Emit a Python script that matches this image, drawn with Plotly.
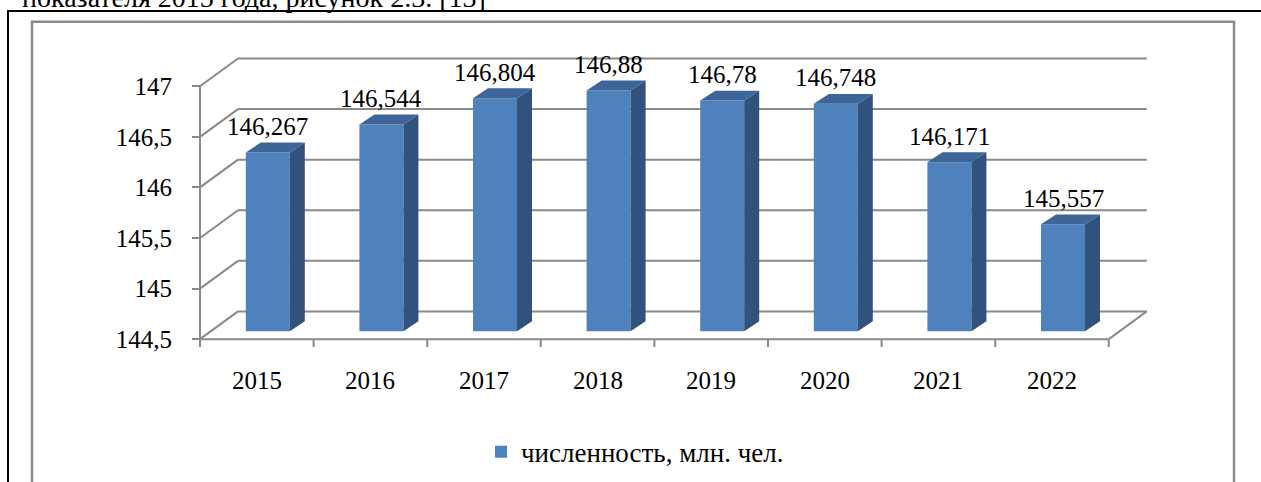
import plotly.graph_objects as go

# ---------------- data ----------------
years = ["2015", "2016", "2017", "2018", "2019", "2020", "2021", "2022"]
population = [146.267, 146.544, 146.804, 146.88, 146.78, 146.748, 146.171, 145.557]
y_ticks = [144.5, 145.0, 145.5, 146.0, 146.5, 147.0]
y_tick_text = ["144,5", "145", "145,5", "146", "146,5", "147"]
series_name = "численность, млн. чел."
caption_text = "показателя 2015 года, рисунок 2.3. [13]"

# ---------------- geometry (pixels) ----------------
W, H = 1261, 482
X0_PX, CAT_PX = 200.0, 113.6      # pixel of x=0, pixels per category
Y0_PX, UNIT_PX = 342.0, 102.0     # pixel of y=144.5, pixels per unit
YMIN = 144.5
X_RANGE = [-0.1, 8.6]
Y_RANGE = [144.4, 147.5]

def dxu(px):
    return px / CAT_PX

def dyu(px):
    return px / UNIT_PX

WALL_DX, WALL_DY = dxu(38), dyu(28)     # depth of the 3D box
OFF_DX, OFF_DY = dxu(11), dyu(8)        # bar front plane offset
DEP_DX, DEP_DY = dxu(15), dyu(10)       # bar depth
BAR_W = dxu(44)

x_dom = [(X0_PX + CAT_PX * X_RANGE[0]) / W, (X0_PX + CAT_PX * X_RANGE[1]) / W]
y_dom = [1 - (Y0_PX - UNIT_PX * (Y_RANGE[0] - YMIN)) / H,
         1 - (Y0_PX - UNIT_PX * (Y_RANGE[1] - YMIN)) / H]

FRONT = "#4F81BD"
TOP = "#3E6597"
SIDE = "#31527C"
GRID = "#8a8a8a"
FONT = "Liberation Serif, Times New Roman, serif"

n = len(years)
fig = go.Figure()

# front faces
xc = [i + 0.5 + OFF_DX for i in range(n)]
fig.add_trace(go.Bar(
    x=xc, y=[v - YMIN for v in population], base=YMIN + OFF_DY, width=BAR_W,
    marker=dict(color=FRONT, line=dict(width=0)), name=series_name,
    showlegend=True, hoverinfo="skip"))

# side and top faces
sx, sy, tx, ty = [], [], [], []
for i, v in enumerate(population):
    xl = xc[i] - BAR_W / 2
    xr = xc[i] + BAR_W / 2
    yb = YMIN + OFF_DY
    yt = v + OFF_DY
    sx += [xr, xr + DEP_DX, xr + DEP_DX, xr, xr, None]
    sy += [yb, yb + DEP_DY, yt + DEP_DY, yt, yb, None]
    tx += [xl, xr, xr + DEP_DX, xl + DEP_DX, xl, None]
    ty += [yt, yt, yt + DEP_DY, yt + DEP_DY, yt, None]
fig.add_trace(go.Scatter(x=sx, y=sy, mode="lines", fill="toself", fillcolor=SIDE,
                         line=dict(width=0, color=SIDE), showlegend=False, hoverinfo="skip"))
fig.add_trace(go.Scatter(x=tx, y=ty, mode="lines", fill="toself", fillcolor=TOP,
                         line=dict(width=0, color=TOP), showlegend=False, hoverinfo="skip"))

# walls / gridlines / floor as shapes below traces
shapes = []
line = dict(color=GRID, width=2)
for t in y_ticks:
    shapes.append(dict(type="line", xref="x", yref="y", x0=0, y0=t,
                       x1=WALL_DX, y1=t + WALL_DY, line=line, layer="below"))
    shapes.append(dict(type="line", xref="x", yref="y", x0=WALL_DX, y0=t + WALL_DY,
                       x1=n + WALL_DX, y1=t + WALL_DY, line=line, layer="below"))
shapes.append(dict(type="line", xref="x", yref="y", x0=0, y0=YMIN, x1=n, y1=YMIN,
                   line=line, layer="below"))
shapes.append(dict(type="line", xref="x", yref="y", x0=n, y0=YMIN, x1=n + WALL_DX,
                   y1=YMIN + WALL_DY, line=line, layer="below"))
shapes.append(dict(type="line", xref="x", yref="y", x0=0, y0=YMIN, x1=0, y1=y_ticks[-1],
                   line=line, layer="below"))
for k in range(n + 1):
    shapes.append(dict(type="line", xref="x", yref="y", x0=k, y0=YMIN, x1=k,
                       y1=YMIN - dyu(8), line=line, layer="below"))

# document frames
shapes.append(dict(type="rect", xref="paper", yref="paper", x0=8 / W, x1=1.05,
                   y0=-0.05, y1=1 - 11 / H, line=dict(color="black", width=2),
                   layer="below"))
shapes.append(dict(type="rect", xref="paper", yref="paper", x0=32 / W, x1=1234 / W,
                   y0=-0.05, y1=1 - 22 / H, line=dict(color="#8a8a8a", width=2.5),
                   layer="below"))

annotations = []
for i, v in enumerate(population):
    annotations.append(dict(x=xc[i], y=v + OFF_DY, xref="x", yref="y",
                            text=str(v).replace(".", ","), showarrow=False,
                            yanchor="middle", xanchor="center", yshift=26,
                            font=dict(family=FONT, size=25, color="black")))
for i, yr in enumerate(years):
    annotations.append(dict(x=i + 0.5, y=YMIN, xref="x", yref="y", text=yr,
                            showarrow=False, yanchor="middle", xanchor="center",
                            yshift=-41, font=dict(family=FONT, size=25, color="black")))
annotations.append(dict(x=20 / W, y=1 - 15 / H, xref="paper", yref="paper",
                        text=caption_text, showarrow=False, xanchor="left",
                        yanchor="bottom", font=dict(family=FONT, size=28, color="black")))

fig.update_layout(
    width=W, height=H,
    margin=dict(l=0, r=0, t=0, b=0),
    paper_bgcolor="white", plot_bgcolor="rgba(0,0,0,0)",
    shapes=shapes, annotations=annotations,
    xaxis=dict(domain=x_dom, range=X_RANGE, showgrid=False, zeroline=False,
               showline=False, showticklabels=False, ticks=""),
    yaxis=dict(domain=y_dom, range=Y_RANGE, showgrid=False, zeroline=False,
               showline=False, tickvals=y_ticks, ticktext=y_tick_text,
               ticks="outside", ticklen=8, tickwidth=2, tickcolor=GRID,
               anchor="free", position=X0_PX / W, ticklabelstandoff=15,
               tickfont=dict(family=FONT, size=25, color="black")),
    showlegend=True,
    legend=dict(orientation="h", x=481 / W, xanchor="left", y=1 - 456 / H,
                yanchor="middle", bgcolor="rgba(0,0,0,0)",
                font=dict(family=FONT, size=27, color="black")),
)

fig.write_html("out.html", config={"displayModeBar": False},
               post_script="document.body.style.margin='0';")
